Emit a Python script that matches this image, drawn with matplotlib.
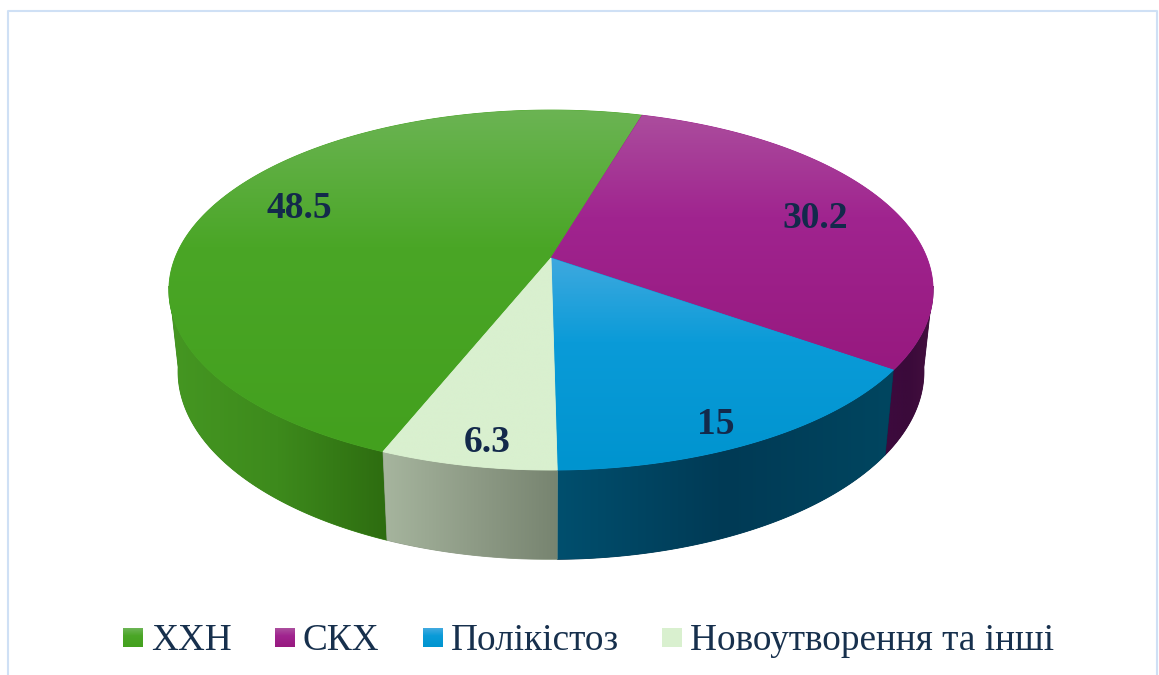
#!/usr/bin/env python3
"""3D-look pie of four categories, drawn on a pixel-sized axes."""

import numpy as np
import matplotlib
matplotlib.use("Agg")
import matplotlib.pyplot as plt
from matplotlib.colors import to_rgb
from matplotlib.legend_handler import HandlerBase
from matplotlib.patches import PathPatch, Rectangle
from matplotlib.path import Path

categories = ["ХХН", "СКХ", "Полікістоз", "Новоутворення та інші"]
values = [48.5, 30.2, 15, 6.3]
value_labels = ["48.5", "30.2", "15", "6.3"]

W, H = 1159, 675
TEXT = "#13294b"
FRAME = "#cfe0f5"

# vertical gradient of each top face: light edge, base, low end
TOP_STOPS = [["#6bb453", "#4aa626", "#43a01e"],
             ["#ab4d9d", "#a0248f", "#97197f"],
             ["#3fa9df", "#0a9bd8", "#0094cf"],
             ["#d9f0cf", "#d9f0cf", "#d9f0cf"]]
TOP_POS = [0, 0.4, 1]
# horizontal gradient of each wall, left to right
WALL_STOPS = [["#459722", "#3d8a1c", "#2d6c10"],
              ["#3d0a3e", "#3a0a3a", "#45103f"],
              ["#004f6e", "#013a55", "#004660"],
              ["#a6b59e", "#8f9c87", "#778470"]]
WALL_POS = [0, 0.5, 1]
LABEL_XY = [(299, 208), (815, 219), (716, 424), (487, 442)]

START_BEARING = 201.9  # clockwise from the back of the pie
CX = 551
K = 0.178  # perspective strength
TOP = dict(cy=258, a=376, b=174.3)
BOTTOM = dict(cy=338, a=367, b=182)
VISIBLE = (99, 261)  # bearings of the wall that faces the viewer


def project(bearing, rim, radius=1.0):
    t = np.radians(bearing)
    u, v = radius * np.sin(t), -radius * np.cos(t)
    d = 1 - K * v
    return CX + rim["a"] * u / d, rim["cy"] + rim["b"] * v / d


def ramp(stops, pos, n=256):
    rgb = np.array([to_rgb(c) for c in stops])
    t = np.linspace(0, 1, n)
    return np.stack([np.interp(t, pos, rgb[:, i]) for i in range(3)], axis=-1)


def fill_gradient(ax, x, y, stops, pos, horizontal=False):
    verts = np.column_stack([x, y])
    path = Path(np.vstack([verts, verts[:1]]), closed=True)
    # plain fill below, keeps the edge smooth where the image clip is hard
    ax.add_patch(PathPatch(path, fc=stops[1], ec=stops[1], lw=0.6, zorder=ax.zo))
    colors = ramp(stops, pos)
    img = colors[None, :, :] if horizontal else colors[:, None, :]
    # row 0 is the top, because the y axis runs down
    im = ax.imshow(img, extent=(x.min(), x.max(), y.max(), y.min()), aspect="auto",
                   interpolation="bilinear", zorder=ax.zo + 0.1)
    im.set_clip_path(PathPatch(path, transform=ax.transData))
    ax.zo += 1


class GradientSwatch(HandlerBase):
    def __init__(self, stops, **kw):
        super().__init__(**kw)
        self.stops = stops

    def create_artists(self, legend, orig, xd, yd, width, height, fontsize, trans):
        colors = ramp(self.stops, TOP_POS, 19)
        w, h = 20 * 0.72, 19 * 0.72
        y0 = -yd + height / 2 - h / 2
        out = []
        for i, c in enumerate(colors):
            # first color on top
            out.append(Rectangle((-xd, y0 + h * (18 - i) / 19), w, h / 19 + 0.1,
                                 fc=c, ec="none", transform=trans))
        return out


fig = plt.figure(figsize=(W / 100, H / 100), dpi=100)
ax = fig.add_axes([0, 0, 1, 1])
ax.zo = 2

# outer frame, runs off the bottom of the picture
ax.plot([8, 8, 1157, 1157], [H + 5, 11, 11, H + 5], color=FRAME, lw=1.5, zorder=1)

shares = np.array(values) / sum(values) * 360
starts = START_BEARING + np.concatenate([[0], np.cumsum(shares)[:-1]])

# walls
for b0, share, stops in zip(starts, shares, WALL_STOPS):
    for shift in (0, -360):
        lo, hi = max(b0 + shift, VISIBLE[0]), min(b0 + share + shift, VISIBLE[1])
        if hi <= lo:
            continue
        b = np.linspace(lo, hi, 120)
        xt, yt = project(b, TOP)
        xb, yb = project(b, BOTTOM)
        fill_gradient(ax, np.r_[xt, xb[::-1]], np.r_[yt, yb[::-1]], stops, WALL_POS, horizontal=True)

# top faces
for b0, share, stops in zip(starts, shares, TOP_STOPS):
    b = np.linspace(b0, b0 + share, 240)
    xt, yt = project(b, TOP)
    xc, yc = project(0, TOP, radius=0)
    fill_gradient(ax, np.r_[xc, xt], np.r_[yc, yt], stops, TOP_POS)

for text, (x, y) in zip(value_labels, LABEL_XY):
    ax.text(x, y, text, ha="center", va="center", color=TEXT, zorder=50,
            family="Liberation Serif", fontweight="bold", fontsize=27)

ax.set_xlim(0, W)
ax.set_ylim(H, 0)
ax.axis("off")

handles = [Rectangle((0, 0), 1, 1, label=c) for c in categories]
handler_map = {h: GradientSwatch(TOP_STOPS[i]) for i, h in enumerate(handles)}
leg = fig.legend(handles=handles, handler_map=handler_map, loc="center",
                 bbox_to_anchor=(588.5 / W, 1 - 641 / H), ncol=4, frameon=False,
                 prop={"family": "Liberation Serif", "size": 26.8},
                 labelcolor="#17304d", handlelength=0.54, handletextpad=0.216,
                 columnspacing=1.16, borderpad=0, borderaxespad=0)

fig.savefig("out.png", dpi=100)
